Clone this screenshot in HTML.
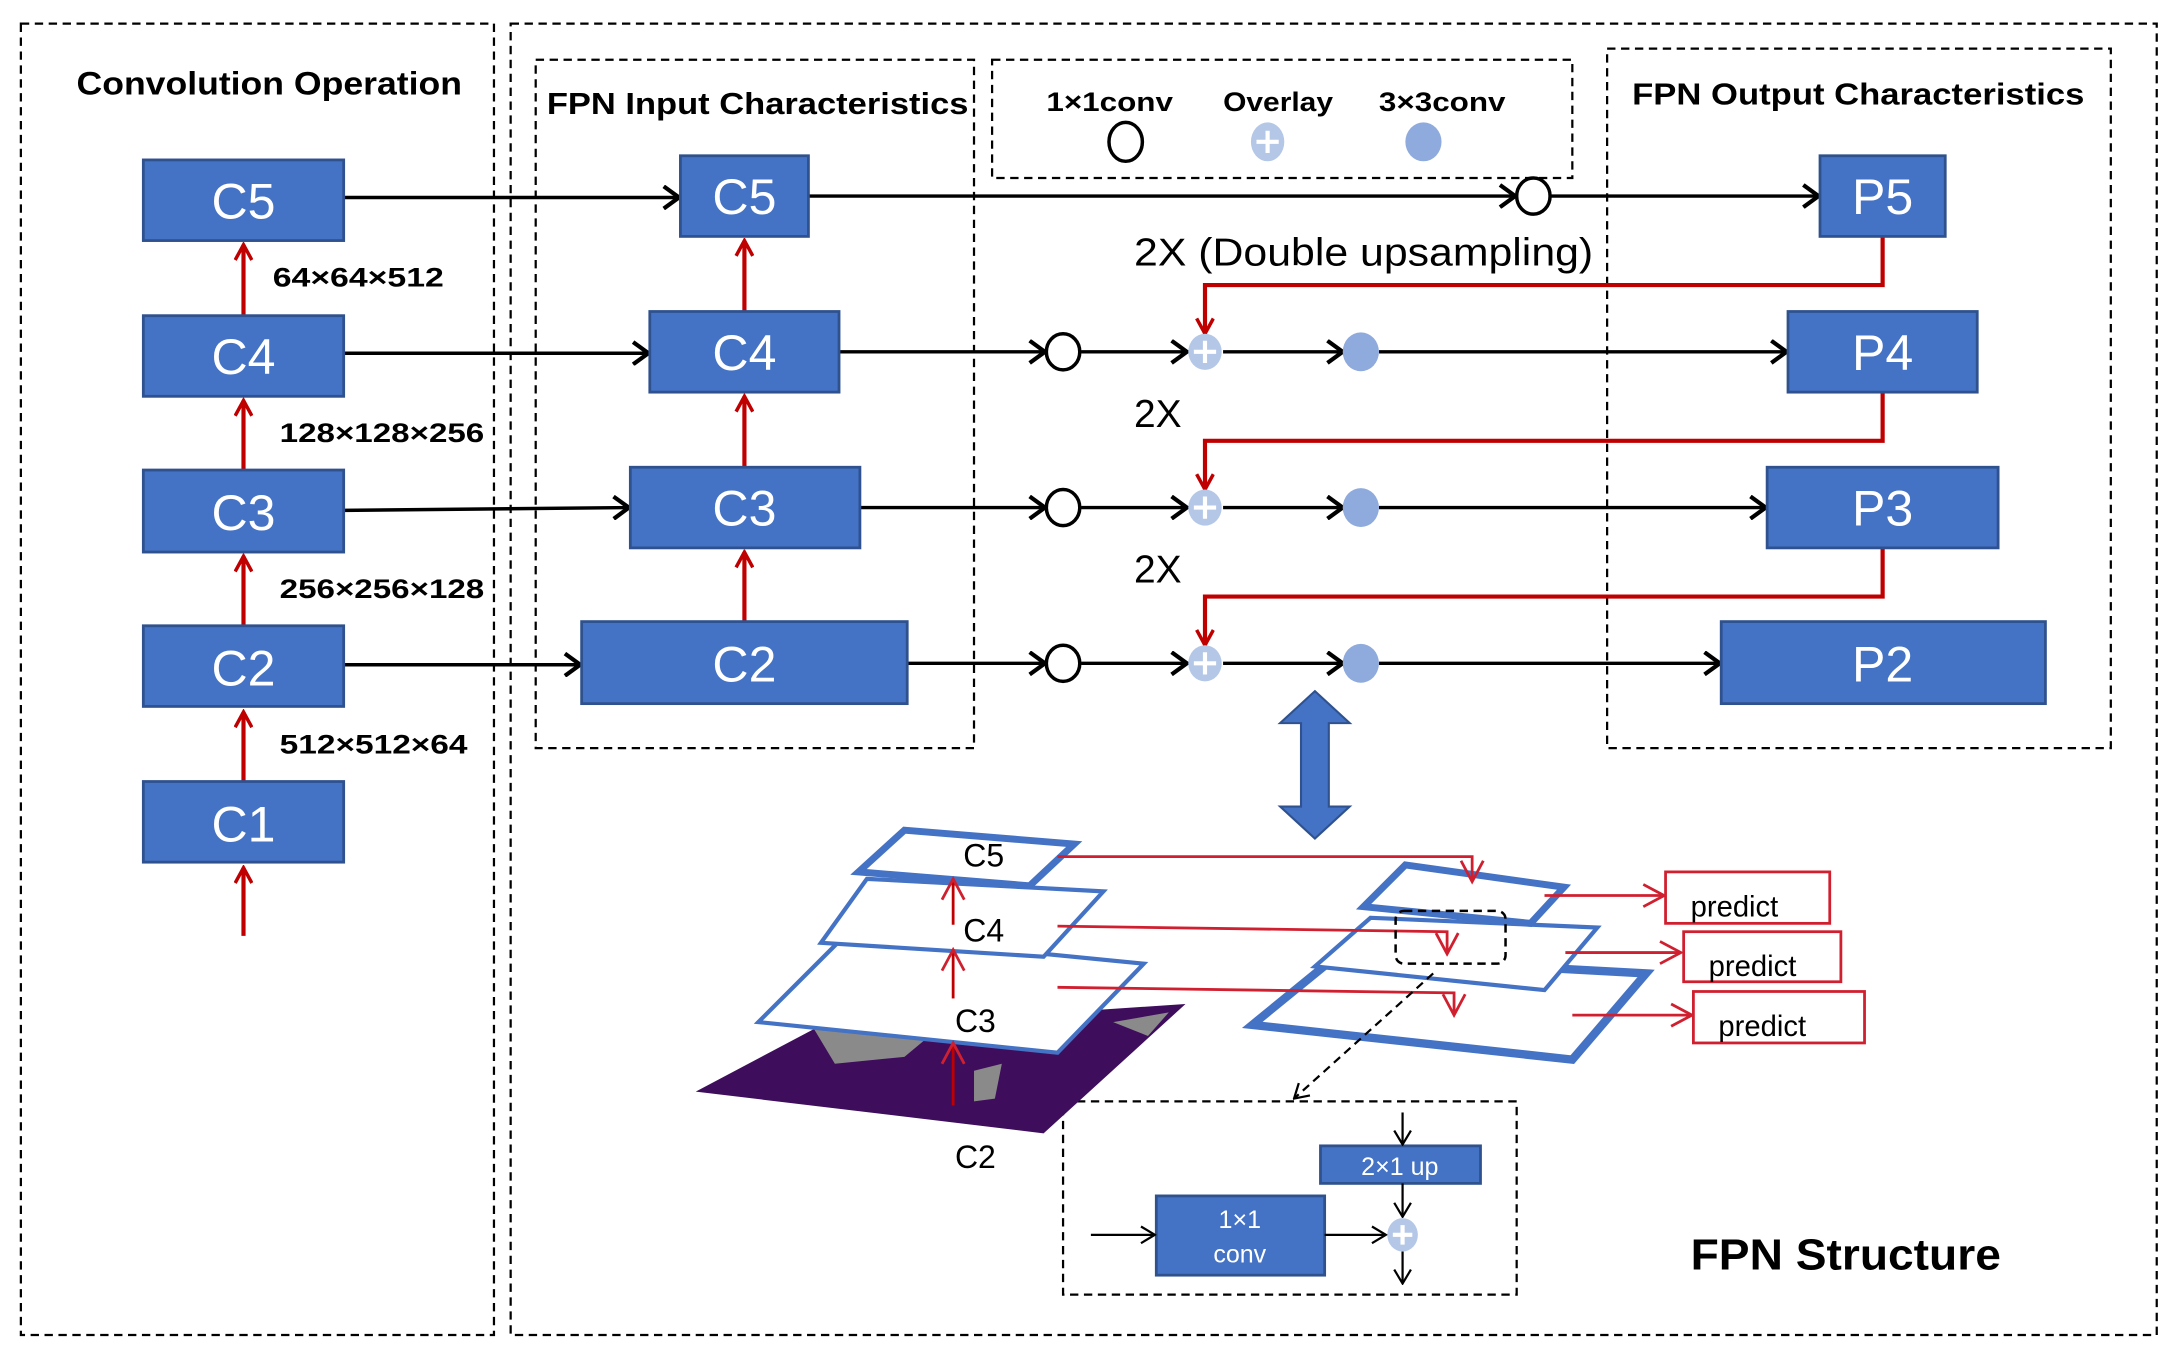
<!DOCTYPE html>
<html><head><meta charset="utf-8"><style>html,body{margin:0;padding:0;background:#fff}svg{display:block}</style></head>
<body>
<svg width="2179" height="1360" viewBox="0 0 1566 978" preserveAspectRatio="none" xmlns="http://www.w3.org/2000/svg" font-family="Liberation Sans, sans-serif">
<defs>
<marker id="ab" markerWidth="14" markerHeight="18" refX="12" refY="9" orient="auto" markerUnits="userSpaceOnUse"><path d="M1,1 L12,9 L1,17" fill="none" stroke="#000" stroke-width="3"/></marker>
<marker id="ar" markerWidth="14" markerHeight="14" refX="12" refY="7" orient="auto" markerUnits="userSpaceOnUse"><path d="M1,1 L12,7 L1,13" fill="none" stroke="#C00000" stroke-width="2.5"/></marker>
<marker id="ar2" markerWidth="18" markerHeight="18" refX="16" refY="9" orient="auto" markerUnits="userSpaceOnUse"><path d="M1,1 L16,9 L1,17" fill="none" stroke="#D02030" stroke-width="2"/></marker>
<marker id="ab2" markerWidth="12" markerHeight="14" refX="11" refY="7" orient="auto" markerUnits="userSpaceOnUse"><path d="M1,1 L11,7 L1,13" fill="none" stroke="#000" stroke-width="1.6"/></marker>
</defs>
<g fill="none" stroke="#000" stroke-width="1.6" stroke-dasharray="6,4">
<rect x="15" y="17" width="340" height="943"/>
<rect x="367" y="17" width="1183" height="943"/>
<rect x="385" y="43" width="315" height="495"/>
<rect x="713" y="43" width="417" height="85"/>
<rect x="1155" y="35" width="362" height="503"/>
<rect x="764" y="792" width="326" height="139"/>
</g>
<g font-weight="bold" fill="#000">
<text x="55" y="68" font-size="23" textLength="277" lengthAdjust="spacingAndGlyphs">Convolution Operation</text>
<text x="393" y="82" font-size="22" textLength="303" lengthAdjust="spacingAndGlyphs">FPN Input Characteristics</text>
<text x="1173" y="75" font-size="22" textLength="325" lengthAdjust="spacingAndGlyphs">FPN Output Characteristics</text>
<text x="752" y="80" font-size="19" textLength="91" lengthAdjust="spacingAndGlyphs">1×1conv</text>
<text x="879" y="80" font-size="19" textLength="79" lengthAdjust="spacingAndGlyphs">Overlay</text>
<text x="991" y="80" font-size="19" textLength="91" lengthAdjust="spacingAndGlyphs">3×3conv</text>
<text x="196" y="206" font-size="19" textLength="123" lengthAdjust="spacingAndGlyphs">64×64×512</text>
<text x="201" y="318" font-size="19" textLength="147" lengthAdjust="spacingAndGlyphs">128×128×256</text>
<text x="201" y="430" font-size="19" textLength="147" lengthAdjust="spacingAndGlyphs">256×256×128</text>
<text x="201" y="542" font-size="19" textLength="135" lengthAdjust="spacingAndGlyphs">512×512×64</text>
<text x="1215" y="913" font-size="31" textLength="223" lengthAdjust="spacingAndGlyphs">FPN Structure</text>
</g>
<g fill="#000" font-size="28">
<text x="815" y="191" textLength="330" lengthAdjust="spacingAndGlyphs">2X (Double upsampling)</text>
<text x="815" y="307">2X</text>
<text x="815" y="419">2X</text>
</g>
<g stroke="#000" stroke-width="2.5" fill="none" marker-end="url(#ab)">
<line x1="247" y1="142" x2="488" y2="142"/>
<line x1="247" y1="254" x2="466" y2="254"/>
<line x1="247" y1="367" x2="452" y2="365"/>
<line x1="247" y1="478" x2="417" y2="478"/>
<line x1="581" y1="141" x2="1089" y2="141"/>
<line x1="1115" y1="141" x2="1307" y2="141"/>
<line x1="603" y1="253" x2="751" y2="253"/><line x1="777" y1="253" x2="853" y2="253"/><line x1="879" y1="253" x2="965" y2="253"/><line x1="991" y1="253" x2="1284" y2="253"/>
<line x1="618" y1="365" x2="751" y2="365"/><line x1="777" y1="365" x2="853" y2="365"/><line x1="879" y1="365" x2="965" y2="365"/><line x1="991" y1="365" x2="1269" y2="365"/>
<line x1="652" y1="477" x2="751" y2="477"/><line x1="777" y1="477" x2="853" y2="477"/><line x1="879" y1="477" x2="965" y2="477"/><line x1="991" y1="477" x2="1236" y2="477"/>
</g>
<g stroke="#C00000" stroke-width="3" fill="none" marker-end="url(#ar)">
<line x1="175" y1="227" x2="175" y2="176"/>
<line x1="175" y1="338" x2="175" y2="288"/>
<line x1="175" y1="450" x2="175" y2="400"/>
<line x1="175" y1="562" x2="175" y2="512"/>
<line x1="175" y1="673" x2="175" y2="624"/>
<line x1="535" y1="224" x2="535" y2="173"/>
<line x1="535" y1="336" x2="535" y2="285"/>
<line x1="535" y1="447" x2="535" y2="397"/>
<polyline points="1353,170 1353,205 866,205 866,240"/>
<polyline points="1353,282 1353,317 866,317 866,352"/>
<polyline points="1353,394 1353,429 866,429 866,464"/>
</g>
<g fill="#4472C4" stroke="#2F528F" stroke-width="2">
<rect x="103" y="115" width="144" height="58"/><rect x="103" y="227" width="144" height="58"/><rect x="103" y="338" width="144" height="59"/><rect x="103" y="450" width="144" height="58"/><rect x="103" y="562" width="144" height="58"/>
<rect x="489" y="112" width="92" height="58"/><rect x="467" y="224" width="136" height="58"/><rect x="453" y="336" width="165" height="58"/><rect x="418" y="447" width="234" height="59"/>
<rect x="1308" y="112" width="90" height="58"/><rect x="1285" y="224" width="136" height="58"/><rect x="1270" y="336" width="166" height="58"/><rect x="1237" y="447" width="233" height="59"/>
<rect x="949" y="824" width="115" height="27"/><rect x="831" y="860" width="121" height="57"/>
</g>
<g fill="#fff" font-size="36" text-anchor="middle">
<text x="175" y="157">C5</text><text x="175" y="269">C4</text><text x="175" y="381">C3</text><text x="175" y="493">C2</text><text x="175" y="605">C1</text>
<text x="535" y="154">C5</text><text x="535" y="266">C4</text><text x="535" y="378">C3</text><text x="535" y="490">C2</text>
<text x="1353" y="154">P5</text><text x="1353" y="266">P4</text><text x="1353" y="378">P3</text><text x="1353" y="490">P2</text>
<text x="1006" y="845" font-size="18">2×1 up</text>
<text x="891" y="883" font-size="18">1×1</text><text x="891" y="908" font-size="18">conv</text>
</g>
<g stroke="#000" stroke-width="2.5" fill="#fff">
<ellipse cx="809" cy="102" rx="12" ry="14"/>
<ellipse cx="1102" cy="141" rx="12" ry="13"/>
<ellipse cx="764" cy="253" rx="12" ry="13"/><ellipse cx="764" cy="365" rx="12" ry="13"/><ellipse cx="764" cy="477" rx="12" ry="13"/>
</g>
<g fill="#8FAADC">
<ellipse cx="1023" cy="102" rx="13" ry="14"/>
<ellipse cx="978" cy="253" rx="13" ry="14"/><ellipse cx="978" cy="365" rx="13" ry="14"/><ellipse cx="978" cy="477" rx="13" ry="14"/>
</g>
<g fill="#B4C7E7">
<ellipse cx="911" cy="102" rx="12" ry="14"/>
<ellipse cx="866" cy="253" rx="12" ry="13"/><ellipse cx="866" cy="365" rx="12" ry="13"/><ellipse cx="866" cy="477" rx="12" ry="13"/>
<ellipse cx="1008" cy="888" rx="11" ry="12"/>
</g>
<g stroke="#fff" stroke-width="3">
<path d="M903,102h16M911,94v16"/>
<path d="M858,253h16M866,245v16"/><path d="M858,365h16M866,357v16"/><path d="M858,477h16M866,469v16"/>
<path d="M1001,888h14M1008,881v14"/>
</g>
<path d="M945,497 L970,520 L955,520 L955,580 L970,580 L945,603 L920,580 L935,580 L935,520 L920,520 Z" fill="#4472C4" stroke="#2F528F" stroke-width="1.5"/>
<path d="M585,740 L852,722 L750,815 L500,785 Z" fill="#3E0D5C"/>
<path d="M585,740 L680,735 L650,760 L600,765 Z M700,770 L720,765 L715,790 L700,792 Z M800,735 L840,728 L825,745 Z" fill="#8a8a8a"/>
<g fill="#fff" stroke="#4472C4">
<path d="M608,672 L822,693 L760,757 L545,735 Z" stroke-width="3"/>
<path d="M623,632 L793,641 L750,688 L590,678 Z" stroke-width="3"/>
<path d="M650,597 L772,607 L740,637 L617,627 Z" stroke-width="5"/>
<path d="M960,688 L1183,700 L1130,762 L900,737 Z" stroke-width="6"/>
<path d="M985,660 L1148,667 L1110,712 L945,695 Z" stroke-width="3"/>
<path d="M1010,622 L1124,638 L1100,664 L980,652 Z" stroke-width="5"/>
</g>
<g fill="#000" font-size="23" text-anchor="middle">
<text x="707" y="623">C5</text><text x="707" y="677">C4</text><text x="701" y="742">C3</text><text x="701" y="840">C2</text>
</g>
<g stroke="#C00000" stroke-width="2" fill="none" marker-end="url(#ar2)">
<line x1="685" y1="795" x2="685" y2="750"/>
<line x1="685" y1="718" x2="685" y2="683"/>
<line x1="685" y1="665" x2="685" y2="632"/>
</g>
<g stroke="#D02030" stroke-width="2" fill="none" marker-end="url(#ar2)">
<polyline points="760,616 1058,616 1058,634"/>
<polyline points="760,666 1040,670 1040,686"/>
<polyline points="760,710 1045,714 1045,730"/>
<line x1="1110" y1="644" x2="1196" y2="644"/>
<line x1="1125" y1="685" x2="1208" y2="685"/>
<line x1="1130" y1="730" x2="1216" y2="730"/>
</g>
<g fill="#fff" stroke="#D02030" stroke-width="2">
<rect x="1197" y="627" width="118" height="37"/><rect x="1210" y="670" width="113" height="36"/><rect x="1217" y="713" width="123" height="37"/>
</g>
<g fill="#000" font-size="21"><text x="1215" y="659">predict</text><text x="1228" y="702">predict</text><text x="1235" y="745">predict</text></g>
<rect x="1003" y="655" width="79" height="38" rx="6" fill="none" stroke="#000" stroke-width="1.8" stroke-dasharray="6,4"/>
<line x1="1030" y1="700" x2="930" y2="790" stroke="#000" stroke-width="1.6" stroke-dasharray="6,4" marker-end="url(#ab2)"/>
<g stroke="#000" stroke-width="1.6" fill="none" marker-end="url(#ab2)">
<line x1="1008" y1="800" x2="1008" y2="823"/>
<line x1="1008" y1="851" x2="1008" y2="875"/>
<line x1="784" y1="888" x2="830" y2="888"/>
<line x1="952" y1="888" x2="996" y2="888"/>
<line x1="1008" y1="900" x2="1008" y2="923"/>
</g>
</svg>
</body></html>
